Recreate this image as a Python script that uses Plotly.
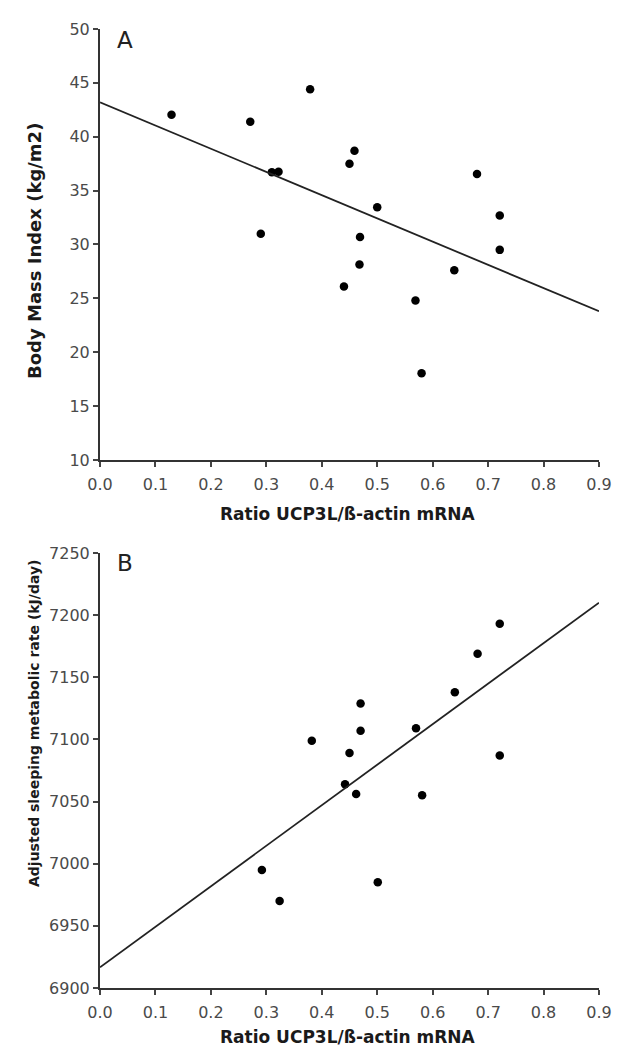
import plotly.graph_objects as go

# Panel A: Body Mass Index vs ratio
ratio_a = [0.129, 0.271, 0.310, 0.322, 0.379, 0.290, 0.459, 0.450, 0.680, 0.500,
           0.469, 0.721, 0.721, 0.468, 0.440, 0.639, 0.569, 0.580]
bmi = [42.05, 41.4, 36.7, 36.75, 44.4, 31.0, 38.7, 37.5, 36.55, 33.45,
       30.7, 32.7, 29.5, 28.15, 26.1, 27.6, 24.8, 18.05]
fit_x = [0.0, 0.9]
fit_a = [43.2, 23.8]

# Panel B: Adjusted sleeping metabolic rate vs ratio
ratio_b = [0.382, 0.721, 0.681, 0.640, 0.470, 0.470, 0.570, 0.450, 0.721, 0.442,
           0.462, 0.581, 0.501, 0.292, 0.324]
smr = [7099, 7193, 7169, 7138, 7129, 7107, 7109, 7089, 7087, 7064,
       7056, 7055, 6985, 6995, 6970]
fit_b = [6916.7, 7210]

x_ticks = [0.0, 0.1, 0.2, 0.3, 0.4, 0.5, 0.6, 0.7, 0.8, 0.9]
x_labels = ["0.0", "0.1", "0.2", "0.3", "0.4", "0.5", "0.6", "0.7", "0.8", "0.9"]

FONT = "DejaVu Sans, Arial, sans-serif"

fig = go.Figure()
mk = dict(color="black", size=8.5)
fig.add_trace(go.Scatter(x=ratio_a, y=bmi, mode="markers", marker=mk, xaxis="x", yaxis="y", showlegend=False))
fig.add_trace(go.Scatter(x=fit_x, y=fit_a, mode="lines", line=dict(color="#222", width=1.8), xaxis="x", yaxis="y", showlegend=False))
fig.add_trace(go.Scatter(x=ratio_b, y=smr, mode="markers", marker=mk, xaxis="x2", yaxis="y2", showlegend=False))
fig.add_trace(go.Scatter(x=fit_x, y=fit_b, mode="lines", line=dict(color="#222", width=1.8), xaxis="x2", yaxis="y2", showlegend=False))

tickfont = dict(family=FONT, size=16, color="#4a4a4a")
ax_common = dict(showgrid=False, zeroline=False, showline=True, linecolor="#333", linewidth=2,
                 ticks="outside", ticklen=5, tickwidth=1.5, tickcolor="#444", tickfont=tickfont)

fig.update_layout(
    width=623, height=1049,
    margin=dict(l=92, r=32, t=21, b=69),
    paper_bgcolor="white", plot_bgcolor="white",
    xaxis=dict(domain=[0, 1], anchor="y", range=[0, 0.9], tickvals=x_ticks, ticktext=x_labels,
               ticklabelstandoff=4, **ax_common),
    yaxis=dict(domain=[0.5506, 1], anchor="x", range=[10, 50], dtick=5, tick0=10, **ax_common),
    xaxis2=dict(domain=[0, 1], anchor="y2", range=[0, 0.9], tickvals=x_ticks, ticktext=x_labels,
                ticklabelstandoff=4, **ax_common),
    yaxis2=dict(domain=[0, 0.4536], anchor="x2", range=[6900, 7250], dtick=50, tick0=6900, **ax_common),
)

anns = [
    dict(text="<b>Ratio UCP3L/ß-actin mRNA</b>", x=340, y=506, size=17, color="#1a1a1a", angle=0),
    dict(text="<b>Ratio UCP3L/ß-actin mRNA</b>", x=340, y=1029, size=17, color="#1a1a1a", angle=0),
    dict(text="<b>Body Mass Index (kg/m2)</b>", x=26, y=243, size=18, color="#1a1a1a", angle=-90),
    dict(text="<b>Adjusted sleeping metabolic rate (kJ/day)</b>", x=26, y=716, size=14, color="#1a1a1a", angle=-90),
    dict(text="A", x=117, y=32, size=23, color="#222", angle=0),
    dict(text="B", x=117, y=555, size=23, color="#222", angle=0),
]
annotations = []
for a in anns:
    annotations.append(dict(text=a["text"], xref="paper", yref="paper",
                            x=(a["x"] - 92) / (623 - 92 - 32), y=(980 - a["y"]) / (1049 - 21 - 69),
                            xanchor="center", yanchor="middle", showarrow=False,
                            font=dict(family=FONT, size=a["size"], color=a["color"]),
                            textangle=a["angle"]))
fig.update_layout(annotations=annotations)

fig.write_html("out.html")
